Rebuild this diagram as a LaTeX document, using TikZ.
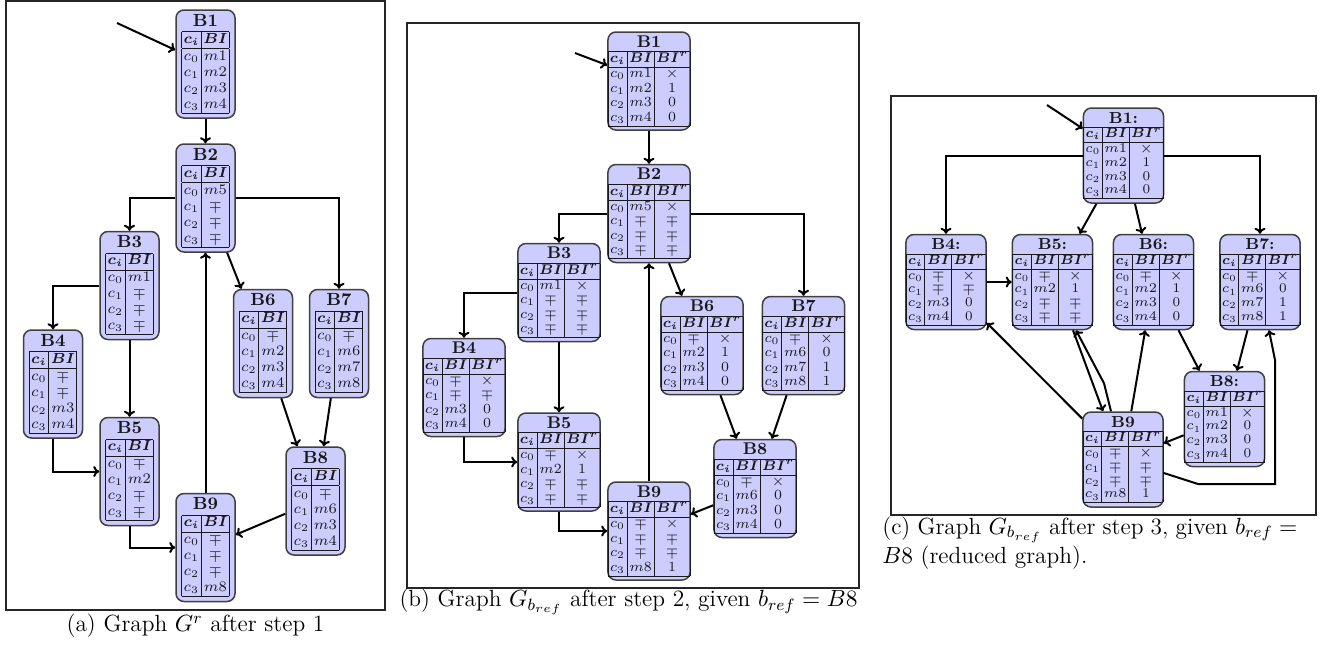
\RequirePackage{fix-cm}
\documentclass[tikz,border=0pt]{standalone}
\usepackage{amsmath}
\usetikzlibrary{calc,arrows.meta}
\setlength\tabcolsep{1pt}
\setlength\arrayrulewidth{0.4pt}
\newcommand\mm[1]{$m#1$}
\newcommand\mpx{$\mp$}
\newcommand\xx{$\times$}
\newcommand\ttl{}
\newcommand{\blkA}[5]{\begin{tabular}{|c|c|}\multicolumn{2}{@{}c@{}}{\ttl #1}\\\hline
$\boldsymbol{c_i}$&$\boldsymbol{BI}$\\\hline
$c_0$&#2\\ $c_1$&#3\\ $c_2$&#4\\ $c_3$&#5\\\hline\end{tabular}}
\newcommand{\blkB}[5]{\begin{tabular}{|c|c|c|}\multicolumn{3}{@{}c@{}}{\ttl #1}\\\hline
$\boldsymbol{c_i}$&$\boldsymbol{BI}$&$\boldsymbol{BI^r}$\\\hline
$c_0$&#2\\ $c_1$&#3\\ $c_2$&#4\\ $c_3$&#5\\\hline\end{tabular}}
\tikzset{
 blk/.style={draw=black!75, fill=blue!20, rounded corners=4pt, line width=0.75pt, inner sep=0pt, text=black!90},
 pa/.style={blk, minimum width=29.5pt, minimum height=54pt, font={\fontsize{7.3}{8}\selectfont\def\ttl{\fontsize{8.8}{8}\selectfont\bfseries}}},
 pb/.style={blk, minimum width=40pt, minimum height=49pt, font={\fontsize{7}{7.25}\selectfont\def\ttl{\fontsize{8.5}{8}\selectfont\bfseries}}},
 pc/.style={blk, minimum width=38.5pt, minimum height=47.5pt, font={\fontsize{6.7}{6.9}\selectfont\def\ttl{\fontsize{8}{8}\selectfont\bfseries}}},
 arr/.style={-{To[length=3pt,width=5.5pt]}, line width=1pt},
 pframe/.style={draw=black!85, line width=0.7pt},
 capt/.style={font=\fontsize{11.7}{14.5}\selectfont, inner sep=0pt}
}
\begin{document}
\begin{tikzpicture}[x=0.5pt,y=-0.5pt]
\useasboundingbox (0,0) rectangle (1335,644);
\fill[white] (0,0) rectangle (1335,644);
% ---------------- panel (a)
\draw[pframe] (6,1) rectangle (385,610);
\coordinate (a0) at (117,23);
\node[pa] (a1) at (205.5,64) {\blkA{B1}{\mm1}{\mm2}{\mm3}{\mm4}};
\node[pa] (a2) at (205.5,198) {\blkA{B2}{\mm5}{\mpx}{\mpx}{\mpx}};
\node[pa] (a3) at (129.5,285.5) {\blkA{B3}{\mm1}{\mpx}{\mpx}{\mpx}};
\node[pa] (a4) at (53,384) {\blkA{B4}{\mpx}{\mpx}{\mm3}{\mm4}};
\node[pa] (a5) at (129.5,471.5) {\blkA{B5}{\mpx}{\mm2}{\mpx}{\mpx}};
\node[pa] (a6) at (263,343.5) {\blkA{B6}{\mpx}{\mm2}{\mm3}{\mm4}};
\node[pa] (a7) at (339,343.5) {\blkA{B7}{\mpx}{\mm6}{\mm7}{\mm8}};
\node[pa] (a8) at (315.5,501) {\blkA{B8}{\mpx}{\mm6}{\mm3}{\mm4}};
\node[pa] (a9) at (205.5,547.5) {\blkA{B9}{\mpx}{\mpx}{\mpx}{\mm8}};
\draw[arr] (a0) -- (a1);
\draw[arr] (a1) -- (a2);
\draw[arr] (a2.west) -| (a3.north);
\draw[arr] (a2.east) -| (a7.north);
\draw[arr] (a2) -- (a6);
\draw[arr] (a3.west) -| (a4.north);
\draw[arr] (a3) -- (a5);
\draw[arr] (a4.south) |- (a5.west);
\draw[arr] (a5.south) |- (a9.west);
\draw[arr] (a9) -- (a2);
\draw[arr] (a6) -- (a8);
\draw[arr] (a7) -- (a8);
\draw[arr] (a8) -- (a9);
\node[capt] (capa) at (195.5,626) {(a) Graph $G^r$ after step 1};
% ---------------- panel (b)
\draw[pframe] (407,23) rectangle (859,588);
\coordinate (b0) at (575,53);
\node[pb] (b1) at (649,81) {\blkB{B1}{\mm1&\xx}{\mm2&1}{\mm3&0}{\mm4&0}};
\node[pb] (b2) at (649,213.5) {\blkB{B2}{\mm5&\xx}{\mpx&\mpx}{\mpx&\mpx}{\mpx&\mpx}};
\node[pb] (b3) at (559,292.5) {\blkB{B3}{\mm1&\xx}{\mpx&\mpx}{\mpx&\mpx}{\mpx&\mpx}};
\node[pb] (b4) at (464,387.5) {\blkB{B4}{\mpx&\xx}{\mpx&\mpx}{\mm3&0}{\mm4&0}};
\node[pb] (b5) at (559,462) {\blkB{B5}{\mpx&\xx}{\mm2&1}{\mpx&\mpx}{\mpx&\mpx}};
\node[pb] (b6) at (702,345.5) {\blkB{B6}{\mpx&\xx}{\mm2&1}{\mm3&0}{\mm4&0}};
\node[pb] (b7) at (803.5,345.5) {\blkB{B7}{\mpx&\xx}{\mm6&0}{\mm7&1}{\mm8&1}};
\node[pb] (b8) at (755,488.5) {\blkB{B8}{\mpx&\xx}{\mm6&0}{\mm3&0}{\mm4&0}};
\node[pb] (b9) at (649,531) {\blkB{B9}{\mpx&\xx}{\mpx&\mpx}{\mpx&\mpx}{\mm8&1}};
\draw[arr] (b0) -- (b1);
\draw[arr] (b1) -- (b2);
\draw[arr] (b2.west) -| (b3.north);
\draw[arr] (b2.east) -| (b7.north);
\draw[arr] (b2) -- (b6);
\draw[arr] (b3.west) -| (b4.north);
\draw[arr] (b3) -- (b5);
\draw[arr] (b4.south) |- (b5.west);
\draw[arr] (b5.south) |- (b9.west);
\draw[arr] (b9) -- (b2);
\draw[arr] (b6) -- (b8);
\draw[arr] (b7) -- (b8);
\draw[arr] (b8) -- (b9);
\node[capt] (capb) at (628.5,602) {(b) Graph $G_{b_{ref}}$ after step 2, given $b_{ref}=B8$};
% ---------------- panel (c)
\draw[pframe] (891,96) rectangle (1316,515);
\coordinate (c0) at (1047,105);
\node[pc] (c1) at (1123.5,155.5) {\blkB{B1:}{\mm1&\xx}{\mm2&1}{\mm3&0}{\mm4&0}};
\node[pc] (c4) at (946,282) {\blkB{B4:}{\mpx&\xx}{\mpx&\mpx}{\mm3&0}{\mm4&0}};
\node[pc] (c5) at (1052.5,282) {\blkB{B5:}{\mpx&\xx}{\mm2&1}{\mpx&\mpx}{\mpx&\mpx}};
\node[pc] (c6) at (1153.5,282) {\blkB{B6:}{\mpx&\xx}{\mm2&1}{\mm3&0}{\mm4&0}};
\node[pc] (c7) at (1260,282) {\blkB{B7:}{\mpx&\xx}{\mm6&0}{\mm7&1}{\mm8&1}};
\node[pc] (c8) at (1224.5,419) {\blkB{B8:}{\mm1&\xx}{\mm2&0}{\mm3&0}{\mm4&0}};
\node[pc] (c9) at (1123,459.5) {\blkB{B9}{\mpx&\xx}{\mpx&\mpx}{\mpx&\mpx}{\mm8&1}};
\coordinate (k1) at (1198,484);
\coordinate (k2) at (1275,484);
\coordinate (k3) at (1275,360);
\draw[arr] (c0) -- (c1);
\draw[arr] (c1.west) -| (c4.north);
\draw[arr] (c1.east) -| (c7.north);
\draw[arr] (c1) -- (c5);
\draw[arr] (c1) -- (c6);
\draw[arr] (c4) -- (c5);
\draw[arr] (c9) -- (c4);
\draw[arr] ($(c5.south)+(20.5,0)$) -- ($(c9.north)+(-20,0)$);
\draw[arr] ($(c9.north)+(-12,0)$) -- ++(-7,-28) -- ($(c5.south)+(23.5,0)$);
\draw[arr] (c9) -- (c6);
\draw[arr] (c6) -- (c8);
\draw[arr] (c7) -- (c8);
\draw[arr] (c8) -- (c9);
\draw[arr] ($(c9.east)+(0,13.5)$) -- (k1) -- (k2) -- (k3) -- ($(c7.south)+(9,0)$);
\node[capt, anchor=base west] (capc1) at (882,534) {\makebox[207.5pt][s]{(c) Graph $G_{b_{ref}}$ after step 3, given $b_{ref}=$}};
\node[capt, anchor=base west] (capc2) at (882,563) {$B8$ (reduced graph).};
\end{tikzpicture}
\end{document}
